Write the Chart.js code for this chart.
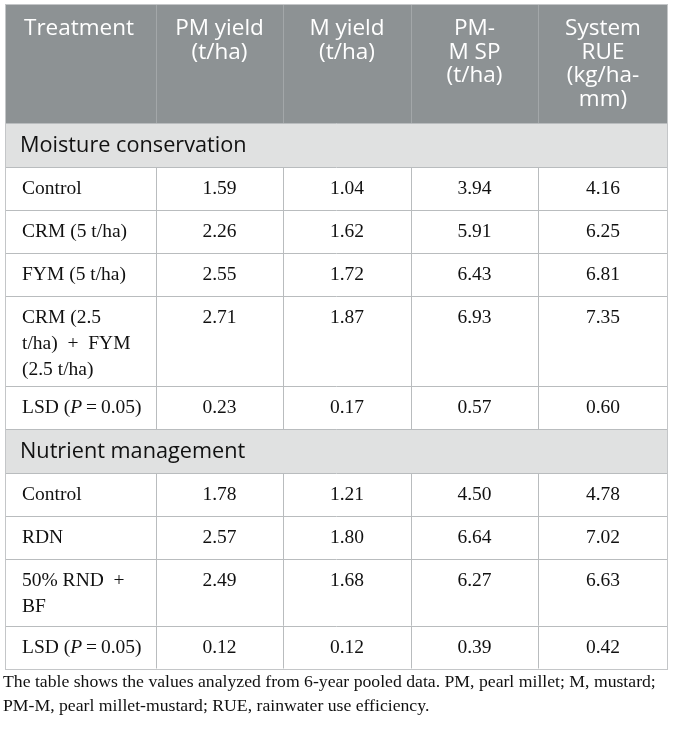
<!DOCTYPE html>
<html>
<head>
<meta charset="utf-8">
<script src="https://cdn.jsdelivr.net/npm/chart.js@4"></script>
<style>
  html, body { margin: 0; padding: 0; background: #fff; }
  #table-chart { display: block; }
</style>
</head>
<body>
<canvas id="table-chart" width="673" height="729"></canvas>
<script>
// данные таблицы
const headerLines = [
    ['Treatment'],
    ['PM yield', '(t/ha)'],
    ['M yield', '(t/ha)'],
    ['PM-', 'M SP', '(t/ha)'],
    ['System', 'RUE', '(kg/ha-', 'mm)']
];

const groupNames = ['Moisture conservation', 'Nutrient management'];

const moistureTreatments = ['Control', 'CRM (5 t/ha)', 'FYM (5 t/ha)', 'CRM (2.5\nt/ha)  +  FYM\n(2.5 t/ha)', 'LSD'];
const moisturePmYield = [1.59, 2.26, 2.55, 2.71, 0.23];
const moistureMYield = [1.04, 1.62, 1.72, 1.87, 0.17];
const moistureSp = [3.94, 5.91, 6.43, 6.93, 0.57];
const moistureRue = [4.16, 6.25, 6.81, 7.35, 0.60];

const nutrientTreatments = ['Control', 'RDN', '50% RND  +\nBF', 'LSD'];
const nutrientPmYield = [1.78, 2.57, 2.49, 0.12];
const nutrientMYield = [1.21, 1.80, 1.68, 0.12];
const nutrientSp = [4.50, 6.64, 6.27, 0.39];
const nutrientRue = [4.78, 7.02, 6.63, 0.42];

const captionLines = [
    'The table shows the values analyzed from 6-year pooled data. PM, pearl millet; M, mustard;',
    'PM-M, pearl millet-mustard; RUE, rainwater use efficiency.'
];

// разметка (в единицах шкал)
const colEdges = [5, 156, 283, 411, 538, 668];
const headerTop = 5, headerHeight = 118, groupHeight = 44, lineRowHeight = 43, extraLine = 23.5;

const SANS = '"Open Sans", sans-serif';
const SERIF = '"Liberation Serif", serif';
const BODY_FONT = '19.5px ' + SERIF;

// строки таблицы в порядке вывода
const tableRows = [];
[[moistureTreatments, moisturePmYield, moistureMYield, moistureSp, moistureRue],
 [nutrientTreatments, nutrientPmYield, nutrientMYield, nutrientSp, nutrientRue]].forEach((group, g) => {
    tableRows.push({type: 'group', label: groupNames[g]});
    group[0].forEach((name, i) => {
        tableRows.push({
            type: 'row',
            label: name,
            values: [group[1][i], group[2][i], group[3][i], group[4][i]]
        });
    });
});

const tablePlugin = {
    id: 'tablePlugin',
    afterDraw(chart) {
        const ctx = chart.ctx;
        const x = chart.scales.x, y = chart.scales.y;
        const px = v => x.getPixelForValue(v);
        const py = v => y.getPixelForValue(v);
        const left = px(colEdges[0]), right = px(colEdges[colEdges.length - 1]);

        ctx.save();
        ctx.textBaseline = 'middle';

        // шапка
        ctx.fillStyle = '#8d9294';
        ctx.fillRect(left, py(headerTop), right - left, py(headerTop + headerHeight) - py(headerTop));
        ctx.strokeStyle = '#a3a7a9';
        ctx.lineWidth = 1;
        for (let c = 1; c < colEdges.length - 1; c++) {
            ctx.beginPath();
            ctx.moveTo(Math.round(px(colEdges[c])) + 0.5, py(headerTop));
            ctx.lineTo(Math.round(px(colEdges[c])) + 0.5, py(headerTop + headerHeight));
            ctx.stroke();
        }
        ctx.fillStyle = '#ffffff';
        ctx.font = '22.5px ' + SANS;
        headerLines.forEach((lines, c) => {
            lines.forEach((line, k) => {
                const ty = py(headerTop + 24 + k * 23.5);
                if (c === 0) {
                    ctx.textAlign = 'left';
                    ctx.fillText(line, px(colEdges[0] + 19), ty);
                } else {
                    ctx.textAlign = 'center';
                    ctx.fillText(line, (px(colEdges[c]) + px(colEdges[c + 1])) / 2, ty);
                }
            });
        });

        // тело
        let top = headerTop + headerHeight;
        const hLines = [top];
        tableRows.forEach(row => {
            if (row.type === 'group') {
                const h = groupHeight;
                ctx.fillStyle = '#e0e1e1';
                ctx.fillRect(left, py(top), right - left, py(top + h) - py(top));
                ctx.fillStyle = '#111111';
                ctx.font = '21.7px ' + SANS;
                ctx.textAlign = 'left';
                ctx.fillText(row.label, px(colEdges[0] + 15), py(top + h / 2 + 1));
                top += h;
                hLines.push(top);
                return;
            }
            const lines = row.label.split('\n');
            const h = lineRowHeight + (lines.length - 1) * extraLine;
            // вертикальные линии внутри строки
            ctx.strokeStyle = '#b9bcbe';
            for (let c = 1; c < colEdges.length - 1; c++) {
                ctx.beginPath();
                ctx.moveTo(Math.round(px(colEdges[c])) + 0.5, py(top));
                ctx.lineTo(Math.round(px(colEdges[c])) + 0.5, py(top + h));
                ctx.stroke();
            }
            ctx.fillStyle = '#111111';
            ctx.font = BODY_FONT;
            lines.forEach((line, k) => {
                const ty = py(top + 22 + k * 26);
                ctx.textAlign = 'left';
                if (line === 'LSD') {
                    // LSD (P = 0.05), P курсивом
                    let tx = px(colEdges[0] + 17);
                    const parts = [['LSD (', BODY_FONT], ['P', 'italic ' + BODY_FONT], ['\u2009=\u20090.05)', BODY_FONT]];
                    parts.forEach(([t, f]) => {
                        ctx.font = f;
                        ctx.fillText(t, tx, ty);
                        tx += ctx.measureText(t).width;
                    });
                    ctx.font = BODY_FONT;
                } else {
                    ctx.fillText(line, px(colEdges[0] + 17), ty);
                }
            });
            ctx.textAlign = 'center';
            row.values.forEach((v, c) => {
                ctx.fillText(v.toFixed(2), (px(colEdges[c + 1]) + px(colEdges[c + 2])) / 2, py(top + 22));
            });
            top += h;
            hLines.push(top);
        });

        // горизонтальные линии и рамка
        ctx.strokeStyle = '#b9bcbe';
        hLines.forEach(v => {
            ctx.beginPath();
            ctx.moveTo(left, Math.round(py(v)) + 0.5);
            ctx.lineTo(right, Math.round(py(v)) + 0.5);
            ctx.stroke();
        });
        ctx.strokeStyle = '#c4c6c8';
        ctx.strokeRect(Math.round(left) + 0.5, Math.round(py(headerTop)) - 0.5,
            Math.round(right - left) - 1, Math.round(py(top) - py(headerTop)) + 1);

        // подпись
        ctx.fillStyle = '#111111';
        ctx.font = '17.7px ' + SERIF;
        ctx.textAlign = 'left';
        captionLines.forEach((line, k) => {
            ctx.fillText(line, px(3), py(top + 14 + k * 24));
        });

        ctx.restore();
    }
};

const tableChart = new Chart(document.querySelector('#table-chart'), {
    type: 'scatter',
    data: {datasets: []},
    options: {
        responsive: false,
        animation: false,
        layout: {padding: 0},
        plugins: {legend: {display: false}, tooltip: {enabled: false}},
        scales: {
            x: {type: 'linear', min: 0, max: 673, display: false},
            y: {type: 'linear', min: 0, max: 729, reverse: true, display: false}
        }
    },
    plugins: [tablePlugin]
});
</script>
</body>
</html>
